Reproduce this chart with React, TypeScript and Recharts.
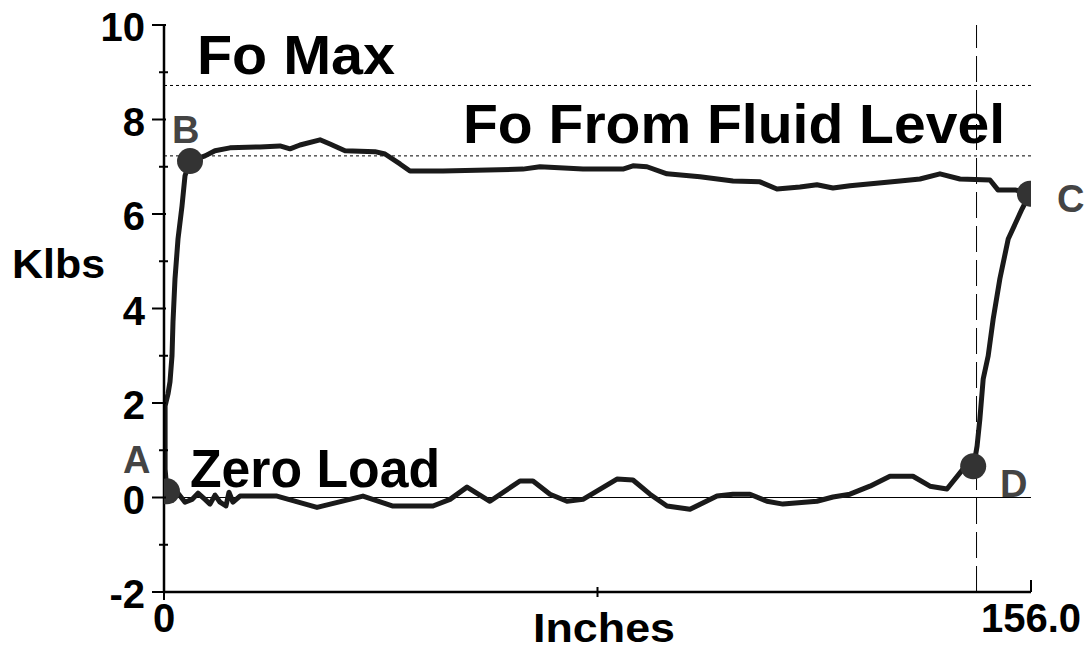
import React from "react";
import {
  ComposedChart,
  Line,
  Scatter,
  XAxis,
  YAxis,
  ReferenceLine
} from "recharts";

// dynamometer card, loop traced A -> B -> C -> D -> A
const upstroke: [number, number][] = [
  [0.54, 0.13], [0.2, 0.6], [0.2, 1.24], [0.2, 1.94], [0.72, 2.19], [1.08, 2.45],
  [1.44, 3.0], [1.62, 3.72], [1.98, 4.63], [2.52, 5.47], [3.24, 6.17], [3.78, 6.81],
  [4.68, 7.12]
];

const topStroke: [number, number][] = [
  [7.38, 7.23], [9.18, 7.34], [11.87, 7.4], [17.27, 7.42], [20.87, 7.44], [22.67, 7.38],
  [24.47, 7.46], [28.07, 7.57], [29.87, 7.48], [32.57, 7.34], [37.96, 7.32], [39.76, 7.27],
  [42.46, 7.06], [44.26, 6.91], [50.2, 6.91], [64.59, 6.95], [67.65, 7.0], [75.39, 6.95],
  [82.58, 6.95], [84.38, 7.02], [86.9, 7.0], [90.5, 6.85], [96.44, 6.79], [102.38, 6.7],
  [107.23, 6.68], [110.29, 6.53], [114.43, 6.57], [117.49, 6.62], [120.37, 6.55],
  [123.43, 6.6], [132.42, 6.7], [136.02, 6.74], [139.62, 6.85], [143.22, 6.74],
  [148.62, 6.72], [150.05, 6.51], [153.11, 6.51], [155.8, 6.43]
];

const downstroke: [number, number][] = [
  [154.4, 6.11], [151.9, 5.47], [150.4, 4.63], [149.2, 3.78], [148.3, 3.0], [147.4, 2.51],
  [146.8, 1.66], [146.3, 1.09], [145.9, 0.81], [145.6, 0.66]
];

const bottomStroke: [number, number][] = [
  [143.76, 0.6], [140.88, 0.18], [137.82, 0.24], [134.76, 0.45], [130.62, 0.45],
  [127.02, 0.24], [123.43, 0.07], [120.37, 0.01], [117.49, -0.08], [111.37, -0.14],
  [108.49, -0.08], [105.43, 0.07], [102.38, 0.07], [99.5, 0.03], [94.64, -0.25],
  [90.5, -0.18], [87.44, 0.07], [84.38, 0.37], [81.5, 0.39], [75.39, -0.04],
  [72.51, -0.08], [69.45, 0.07], [66.39, 0.35], [64.05, 0.35], [58.65, -0.08],
  [54.52, 0.22], [51.46, -0.04], [48.4, -0.18], [41.2, -0.18], [35.8, 0.03],
  [27.53, -0.21], [20.33, 0.03], [13.67, 0.03], [12.41, -0.1], [11.69, 0.11],
  [11.15, -0.18], [10.08, -0.1], [9.18, 0.05], [8.28, -0.14], [7.38, -0.04],
  [6.12, 0.09], [5.04, -0.04], [3.78, -0.1], [2.52, 0.09], [0.54, 0.13]
];

const keyPoints = [
  { name: "A", x: 0.54, y: 0.13 },
  { name: "B", x: 4.68, y: 7.12 },
  { name: "C", x: 155.8, y: 6.43 },
  { name: "D", x: 145.6, y: 0.66 }
];

const foMax = 8.72;
const foFluidLevel = 7.23;
const strokeEnd = 146.2;

const xTicks = [0, 78, 156];
const xTickLabels: Record<number, string> = { 0: "0", 78: "", 156: "156.0" };
const yTicks = [-2, -1, 0, 1, 2, 3, 4, 5, 6, 7, 8, 9, 10];

const loop = [...upstroke, ...topStroke, ...downstroke, ...bottomStroke].map(([x, y]) => ({ x, y }));

const YTick = (props: any) => {
  const { x, y, payload } = props;
  const v = payload.value;
  const major = v % 2 === 0;
  return (
    <g>
      <line x1={major ? x - 12 : x - 5} x2={major ? x + 2 : x + 4} y1={y} y2={y} stroke="#000" strokeWidth={2} />
      {major && (
        <text x={x - 19} y={y + 16} textAnchor="end" fontSize={40} fontWeight="bold" fill="#000">
          {v}
        </text>
      )}
    </g>
  );
};

const XTick = (props: any) => {
  const { x, y, payload } = props;
  const v = payload.value;
  const label = xTickLabels[v] ?? "";
  let y1 = y - 5;
  let y2 = y + 5;
  if (v === 0) { y1 = y; y2 = y + 8; }
  if (v === 156) { y1 = y - 12; y2 = y; }
  return (
    <g>
      <line x1={x} x2={x} y1={y1} y2={y2} stroke="#000" strokeWidth={2} />
      {label && (
        <text x={x} y={y + 40} textAnchor="middle" fontSize={40} fontWeight="bold" fill="#000">
          {label}
        </text>
      )}
    </g>
  );
};

const labelStyle = { fontWeight: "bold" as const, fill: "#000" };
const pointLabel = { fontWeight: "bold" as const, fill: "#444", fontSize: 38 };

export default function App() {
  return (
    <div style={{ position: "absolute", left: 0, top: 0, width: 1089, height: 650, background: "#fff", fontFamily: "'Liberation Sans', Arial, sans-serif" }}>
      <ComposedChart width={1089} height={650} margin={{ top: 25, right: 58, bottom: 0, left: 0 }}>
        <XAxis
          type="number"
          dataKey="x"
          domain={[0, 156]}
          ticks={xTicks}
          height={58}
          tickSize={0}
          tickMargin={0}
          tickLine={false}
          tick={<XTick />}
          axisLine={{ stroke: "#000", strokeWidth: 2.5 }}
          allowDataOverflow
        />
        <YAxis
          type="number"
          dataKey="y"
          domain={[-2, 10]}
          ticks={yTicks}
          width={164}
          tickSize={0}
          tickMargin={0}
          tickLine={false}
          tick={<YTick />}
          axisLine={{ stroke: "#000", strokeWidth: 2.5 }}
          interval={0}
          allowDataOverflow
        />
        <ReferenceLine y={0} stroke="#000" strokeWidth={1} />
        <ReferenceLine y={foMax} stroke="#000" strokeWidth={1} strokeDasharray="3 3" />
        <ReferenceLine y={foFluidLevel} stroke="#000" strokeWidth={1} strokeDasharray="3 3" />
        <ReferenceLine x={strokeEnd} stroke="#000" strokeWidth={1} strokeDasharray="26 8" />
        <Line
          data={loop}
          dataKey="y"
          type="linear"
          stroke="#1a1a1a"
          strokeWidth={5}
          dot={false}
          activeDot={false}
          isAnimationActive={false}
          strokeLinejoin="round"
        />
        <Scatter
          data={keyPoints}
          dataKey="y"
          isAnimationActive={false}
          shape={(p: any) => <circle cx={p.cx} cy={p.cy} r={13} fill="#333" />}
        />
      </ComposedChart>
      <svg width={1089} height={650} style={{ position: "absolute", left: 0, top: 0, pointerEvents: "none" }}>
        <text x={197} y={74} fontSize={56} textLength={198} lengthAdjust="spacingAndGlyphs" {...labelStyle}>Fo Max</text>
        <text x={463} y={143} fontSize={56} textLength={542} lengthAdjust="spacingAndGlyphs" {...labelStyle}>Fo From Fluid Level</text>
        <text x={190} y={487} fontSize={54} textLength={250} lengthAdjust="spacingAndGlyphs" {...labelStyle}>Zero Load</text>
        <text x={12} y={278} fontSize={40} textLength={93} lengthAdjust="spacingAndGlyphs" {...labelStyle}>Klbs</text>
        <text x={533} y={642} fontSize={41} textLength={142} lengthAdjust="spacingAndGlyphs" {...labelStyle}>Inches</text>
        <text x={123} y={473} {...pointLabel}>A</text>
        <text x={172} y={143} {...pointLabel}>B</text>
        <text x={1057} y={212} {...pointLabel}>C</text>
        <text x={1000} y={497} {...pointLabel}>D</text>
      </svg>
    </div>
  );
}
